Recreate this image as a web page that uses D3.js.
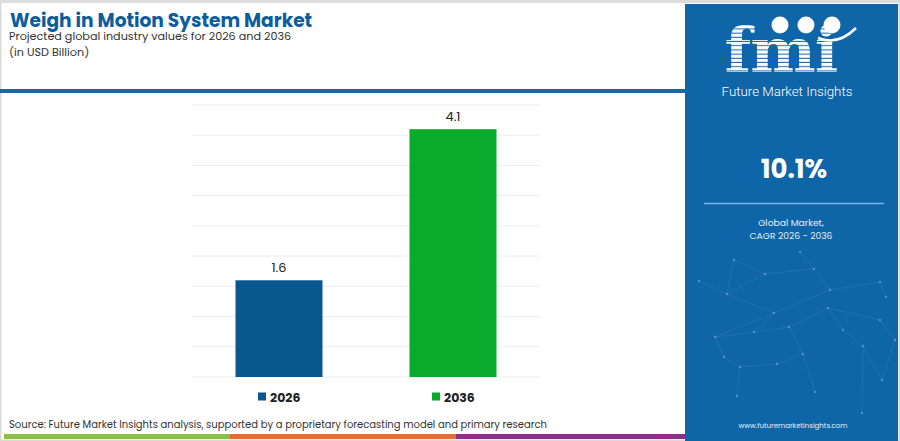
<!DOCTYPE html>
<html>
<head>
<meta charset="utf-8">
<script src="https://cdn.jsdelivr.net/npm/d3@7"></script>
<style>
  body { margin: 0; background: #ffffff; }
  svg { display: block; }
</style>
</head>
<body>
<script>
// Chart values
const years = ["2026", "2036"];
const values = [1.6, 4.1];
const barColors = ["#08588f", "#0aab2c"];
const gridTicks = [0, 0.5, 1, 1.5, 2, 2.5, 3, 3.5, 4, 4.5];
const cagr = "10.1%";

const W = 900, H = 441;
const font = "Poppins, 'Open Sans', Inter, sans-serif";

const svg = d3.select("body")
              .append("svg")
              .attr("width", W)
              .attr("height", H)
              .attr("viewBox", `0 0 ${W} ${H}`);

// Page frame
svg.append("rect")
   .attr("x", 0.75).attr("y", 0.75)
   .attr("width", W - 1.5).attr("height", H - 1.5)
   .attr("fill", "#ffffff")
   .attr("stroke", "#d9d9d9")
   .attr("stroke-width", 1.5);
svg.append("rect")
   .attr("x", 0).attr("y", 0)
   .attr("width", W).attr("height", 3)
   .attr("fill", "#dcdcdc");

// Header texts
svg.append("text")
   .attr("x", 10).attr("y", 26.5)
   .attr("font-family", font)
   .attr("font-weight", 700)
   .attr("font-size", 18.6)
   .attr("fill", "#0c5d9c")
   .text("Weigh in Motion System Market");
svg.append("text")
   .attr("x", 9).attr("y", 40)
   .attr("font-family", font)
   .attr("font-size", 11.2)
   .attr("fill", "#333333")
   .text("Projected global industry values for 2026 and 2036");
svg.append("text")
   .attr("x", 9).attr("y", 55.5)
   .attr("font-family", font)
   .attr("font-size", 11.2)
   .attr("fill", "#333333")
   .text("(in USD Billion)");

// Header rule
svg.append("rect")
   .attr("x", 0).attr("y", 89)
   .attr("width", 686).attr("height", 4)
   .attr("fill", "#1a68aa");

// Scales
const x = d3.scaleBand()
            .domain(years)
            .range([192, 540])
            .paddingInner(0.5)
            .paddingOuter(0.25);
const y = d3.scaleLinear()
            .domain([0, 4.5])
            .range([377, 105]);

// Gridlines
svg.append("g")
   .selectAll("line")
   .data(gridTicks)
   .join("line")
   .attr("x1", 192).attr("x2", 540)
   .attr("y1", d => y(d)).attr("y2", d => y(d))
   .attr("stroke", "#ededed")
   .attr("stroke-width", 1);

// Bars
svg.append("g")
   .selectAll("rect")
   .data(values)
   .join("rect")
   .attr("x", (d, i) => x(years[i]))
   .attr("y", d => y(d))
   .attr("width", x.bandwidth())
   .attr("height", d => y(0) - y(d))
   .attr("fill", (d, i) => barColors[i]);

// Value labels
svg.append("g")
   .selectAll("text")
   .data(values)
   .join("text")
   .attr("x", (d, i) => x(years[i]) + x.bandwidth() / 2)
   .attr("y", d => y(d) - 8)
   .attr("text-anchor", "middle")
   .attr("font-family", font)
   .attr("font-size", 13)
   .attr("fill", "#222222")
   .text(d => d.toFixed(1));

// Legend
const legend = svg.append("g")
                  .selectAll("g")
                  .data(years)
                  .join("g")
                  .attr("transform", (d, i) => `translate(${x(d) + x.bandwidth() / 2 - 21},397)`);
legend.append("rect")
      .attr("x", 0).attr("y", -4.5)
      .attr("width", 8).attr("height", 8)
      .attr("fill", (d, i) => barColors[i]);
legend.append("text")
      .attr("x", 12).attr("y", 4.5)
      .attr("font-family", font)
      .attr("font-weight", 700)
      .attr("font-size", 12.5)
      .attr("fill", "#222222")
      .text(d => d);

// Source
svg.append("text")
   .attr("x", 9).attr("y", 428)
   .attr("font-family", font)
   .attr("font-size", 10)
   .attr("fill", "#333333")
   .text("Source: Future Market Insights analysis, supported by a proprietary forecasting model and primary research");

// Bottom stripe
const stripes = [
    { x0: 4, x1: 230, c: "#8cc043" },
    { x0: 230, x1: 456, c: "#ec6a2f" },
    { x0: 456, x1: 686, c: "#8e2e8c" }
];
svg.append("g")
   .selectAll("rect")
   .data(stripes)
   .join("rect")
   .attr("x", d => d.x0).attr("y", 434)
   .attr("width", d => d.x1 - d.x0).attr("height", 5)
   .attr("fill", d => d.c);

// Right panel
const panel = svg.append("g");
panel.append("rect")
     .attr("x", 685).attr("y", 4)
     .attr("width", 213).attr("height", 437)
     .attr("fill", "#0e65a7");

// Faint network decoration
const nodes = [[699, 281], [727, 294], [765, 274], [774, 313], [814, 269], [830, 290], [880, 282],
               [886, 297], [715, 337], [754, 332], [789, 327], [828, 308], [880, 320], [724, 357],
               [740, 367], [777, 364], [803, 354], [815, 392], [843, 330], [863, 346], [862, 413],
               [737, 396], [895, 340], [882, 380], [734, 260], [800, 252]];
const links = [[0, 1], [1, 2], [2, 4], [4, 5], [5, 6], [6, 7], [1, 3], [3, 5], [3, 8], [8, 9],
               [9, 10], [10, 11], [11, 12], [8, 13], [13, 14], [14, 15], [15, 16], [16, 17],
               [10, 16], [11, 18], [18, 19], [19, 20], [14, 21], [12, 22], [22, 23], [19, 23], [9, 3],
               [24, 1], [25, 4], [24, 2]];
panel.append("g")
     .selectAll("line")
     .data(links)
     .join("line")
     .attr("x1", d => nodes[d[0]][0]).attr("y1", d => nodes[d[0]][1])
     .attr("x2", d => nodes[d[1]][0]).attr("y2", d => nodes[d[1]][1])
     .attr("stroke", "#5b9bcd")
     .attr("stroke-opacity", 0.35)
     .attr("stroke-width", 0.7);
panel.append("g")
     .selectAll("circle")
     .data(nodes)
     .join("circle")
     .attr("cx", d => d[0]).attr("cy", d => d[1])
     .attr("r", 1.2)
     .attr("fill", "#8fbde3")
     .attr("fill-opacity", 0.5);

// Logo: striped "fmi"
const defs = svg.append("defs");
const pat = defs.append("pattern")
                .attr("id", "stripes")
                .attr("patternUnits", "userSpaceOnUse")
                .attr("width", 10).attr("height", 4.2);
pat.append("rect")
   .attr("width", 10).attr("height", 3.2)
   .attr("fill", "#ffffff");
panel.append("text")
     .attr("x", 781).attr("y", 72)
     .attr("text-anchor", "middle")
     .attr("font-family", "'DejaVu Serif', serif")
     .attr("font-weight", 700)
     .attr("font-size", 62)
     .attr("letter-spacing", -1)
     .attr("fill", "url(#stripes)")
     .text("fmi");
panel.append("g")
     .selectAll("circle")
     .data([[780, 25], [806, 25], [832, 25]])
     .join("circle")
     .attr("cx", d => d[0]).attr("cy", d => d[1])
     .attr("r", 8.5)
     .attr("fill", "#ffffff");
panel.append("path")
     .attr("d", "M818,38 Q838,46 856,28")
     .attr("fill", "none")
     .attr("stroke", "#ffffff")
     .attr("stroke-width", 2.5);
panel.append("text")
     .attr("x", 787).attr("y", 96)
     .attr("text-anchor", "middle")
     .attr("font-family", "Roboto, sans-serif")
     .attr("font-weight", 300)
     .attr("font-size", 13.3)
     .attr("fill", "#ffffff")
     .text("Future Market Insights");

// CAGR block
panel.append("text")
     .attr("x", 794).attr("y", 178)
     .attr("text-anchor", "middle")
     .attr("font-family", font)
     .attr("font-weight", 700)
     .attr("font-size", 26)
     .attr("fill", "#ffffff")
     .text(cagr);
panel.append("line")
     .attr("x1", 704).attr("x2", 884)
     .attr("y1", 203.5).attr("y2", 203.5)
     .attr("stroke", "#7db4de")
     .attr("stroke-width", 1.5);
panel.append("text")
     .attr("x", 791).attr("y", 225.5)
     .attr("text-anchor", "middle")
     .attr("font-family", font)
     .attr("font-size", 9.2)
     .attr("fill", "#e6eff7")
     .text("Global Market,");
panel.append("text")
     .attr("x", 791).attr("y", 238.5)
     .attr("text-anchor", "middle")
     .attr("font-family", font)
     .attr("font-size", 9.2)
     .attr("fill", "#e6eff7")
     .text("CAGR 2026 - 2036");
panel.append("text")
     .attr("x", 793).attr("y", 427.5)
     .attr("text-anchor", "middle")
     .attr("font-family", font)
     .attr("font-size", 7)
     .attr("fill", "#e6eff7")
     .text("www.futuremarketinsights.com");
</script>
</body>
</html>
